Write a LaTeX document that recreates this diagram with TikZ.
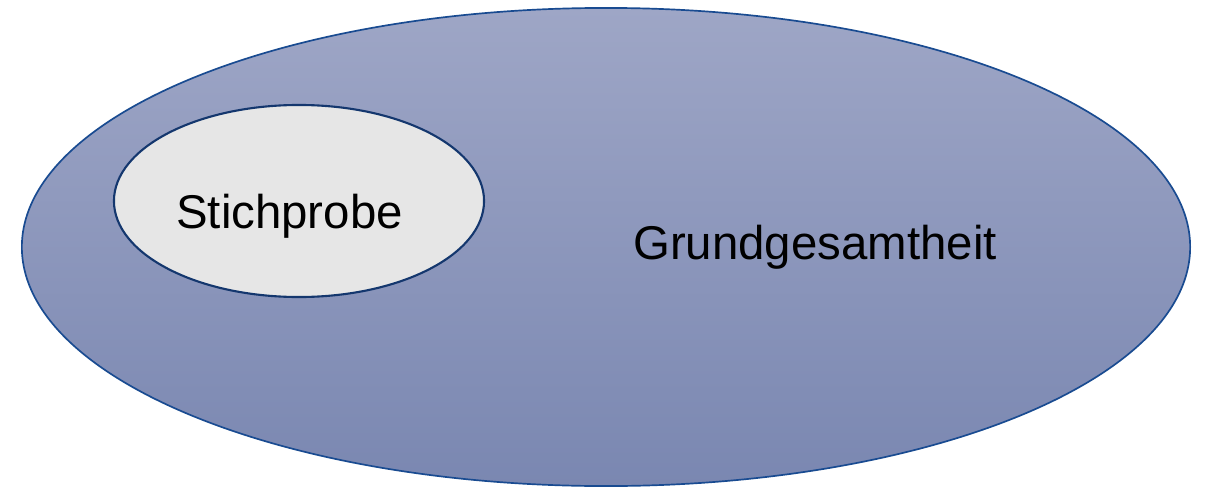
\documentclass[tikz,border=0pt]{standalone}
\usepackage{fontspec}
\setmainfont{Liberation Sans}
\usetikzlibrary{shapes.geometric,positioning}
\definecolor{popblue}{RGB}{158,166,198}
\definecolor{popblued}{RGB}{122,135,177}
\definecolor{popline}{RGB}{25,75,145}
\definecolor{smpline}{RGB}{20,55,110}
\definecolor{smpfill}{RGB}{230,230,230}
\tikzset{
  population/.style={ellipse, draw=popline, line width=1.2pt, top color=popblue, bottom color=popblued, inner sep=0pt},
  sample/.style={ellipse, draw=smpline, line width=1.5pt, fill=smpfill, inner sep=0pt},
  setlabel/.style={font=\fontsize{33.7}{40}\selectfont, anchor=base, inner sep=0pt}
}

\begin{document}
\begin{tikzpicture}[x=0.025cm, y=-0.025cm]
\useasboundingbox (0,0) rectangle (1205,487);
% Grundgesamtheit and Stichprobe
\node[population, minimum width=29.2cm, minimum height=11.95cm] (pop) at (606,247) {};
\node[sample, minimum width=9.25cm, minimum height=4.8cm] (smp) at (299,201) {};

% labels
\node[setlabel] (smptext) at (289.5,228) {Stichprobe};
\node[setlabel] (poptext) at (815,259) {Grundgesamtheit};
\end{tikzpicture}
\end{document}
